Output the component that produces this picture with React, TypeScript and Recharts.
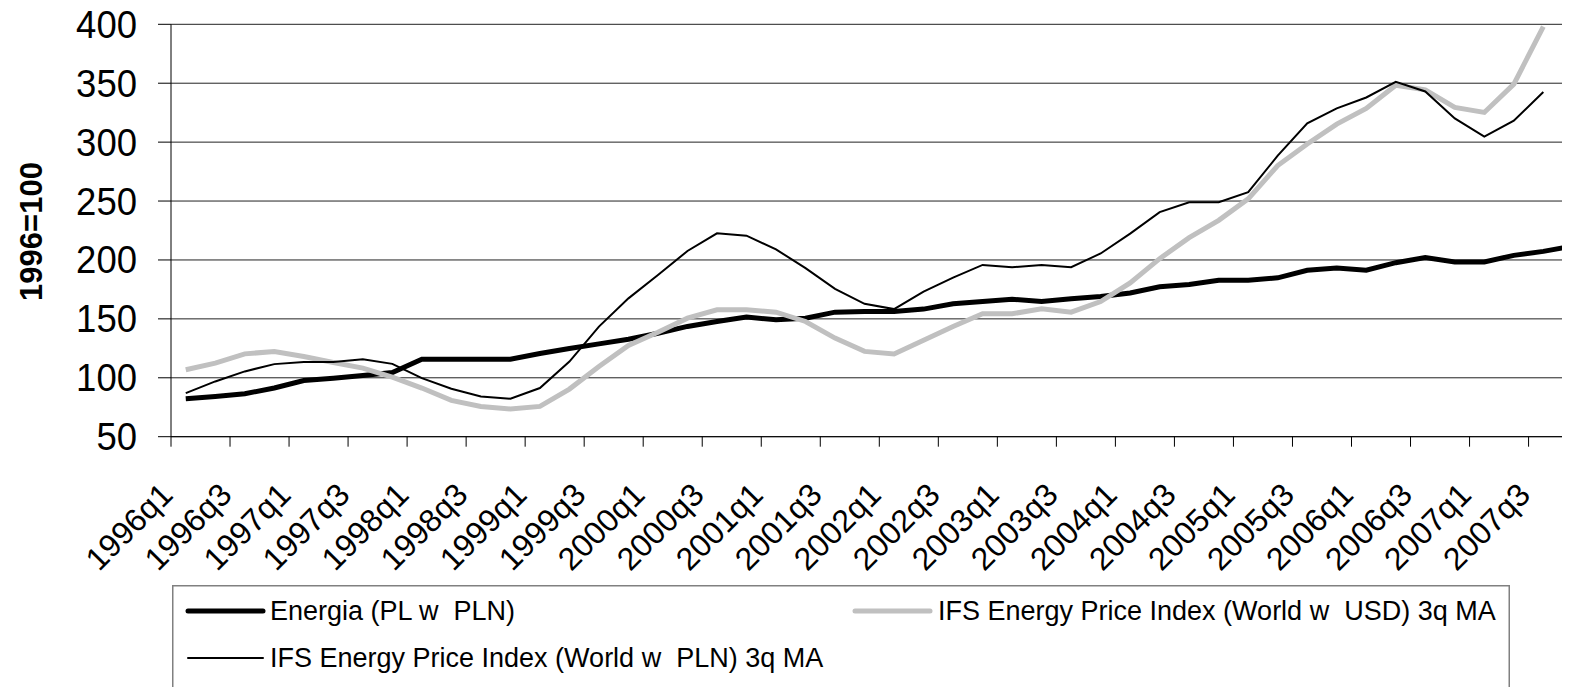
import { CartesianGrid, Legend, Line, LineChart, XAxis, YAxis } from "recharts";

const quarters = [
  "1996q1", "1996q2", "1996q3", "1996q4",
  "1997q1", "1997q2", "1997q3", "1997q4",
  "1998q1", "1998q2", "1998q3", "1998q4",
  "1999q1", "1999q2", "1999q3", "1999q4",
  "2000q1", "2000q2", "2000q3", "2000q4",
  "2001q1", "2001q2", "2001q3", "2001q4",
  "2002q1", "2002q2", "2002q3", "2002q4",
  "2003q1", "2003q2", "2003q3", "2003q4",
  "2004q1", "2004q2", "2004q3", "2004q4",
  "2005q1", "2005q2", "2005q3", "2005q4",
  "2006q1", "2006q2", "2006q3", "2006q4",
  "2007q1", "2007q2", "2007q3", "2007q4",
];

// Energia (PL w PLN)
const energiaPl = [
  82.2, 84.2, 86.5, 91.3, 97.7, 99.7, 102, 104.5,
  115.8, 115.8, 115.8, 115.8, 120.6, 124.8, 128.8, 132.7,
  137.8, 143.6, 147.8, 151.5, 149.2, 150.6, 155.7, 156.3,
  156.3, 158.3, 162.8, 164.7, 166.7, 164.7, 167, 169,
  172, 177.2, 179.1, 182.8, 182.8, 184.8, 191.3, 193.2,
  191.3, 197.7, 202, 198.3, 198.3, 203.9, 207.3, 211.8,
];

// IFS Energy Price Index (World w USD) 3q MA
const ifsUsd = [
  106.8, 112.4, 120.3, 122.3, 118, 113, 108.2, 100.6,
  91.3, 80.8, 75.7, 73.5, 75.7, 90.4, 109.6, 127.4,
  138.6, 150.6, 157.7, 157.7, 155.7, 147.8, 133.7, 122.4,
  120.2, 131.8, 143.6, 154.3, 154.3, 158.5, 155.7, 164.7,
  180.5, 201.1, 218.9, 233.6, 251.9, 280.1, 298.4, 315.3,
  328.6, 348.3, 344.4, 329.4, 325.2, 349.2, 398,
];

// IFS Energy Price Index (World w PLN) 3q MA
const ifsPln = [
  87, 96.9, 105.4, 111.6, 113.3, 113.3, 115.8, 111.8,
  99.7, 90.7, 84.2, 82.2, 91.3, 113.8, 143.4, 167.4,
  187.2, 207.6, 222.6, 220.6, 209, 193, 175.5, 162.8,
  158.3, 173.2, 185, 195.8, 193.8, 195.8, 193.8, 205.5,
  222.3, 240.6, 249, 249, 257.5, 288.5, 315.9, 328.6,
  337.9, 351.2, 343, 320.1, 304.6, 318.2, 342.5,
];

const yTicks = [50, 100, 150, 200, 250, 300, 350, 400];
const seriesNames = [
  "Energia (PL w  PLN)",
  "IFS Energy Price Index (World w  USD) 3q MA",
  "IFS Energy Price Index (World w  PLN) 3q MA",
];

const data = quarters.map((q, i) => ({
  q,
  energia: energiaPl[i],
  usd: ifsUsd[i] ?? null,
  pln: ifsPln[i] ?? null,
}));

const FONT = '"Liberation Sans", Arial, sans-serif';
const CHART_W = 1600;
const CHART_H = 760;
const PLOT_LEFT = 163;
const PLOT_TOP = 16.3;
const PLOT_RIGHT = 1579.6;
const AXIS_Y = 428.7;
const X_AXIS_H = 100;
const BAND = (PLOT_RIGHT - PLOT_LEFT) / quarters.length;

function QuarterTick(props: any) {
  const { x, payload } = props;
  const bx = x - BAND / 2;
  const tx = bx + 3.5;
  const ty = AXIS_Y + 60;
  return (
    <g>
      <line x1={bx} y1={AXIS_Y} x2={bx} y2={AXIS_Y + 10} stroke="#000" strokeWidth={1} />
      <text
        x={tx}
        y={ty}
        textAnchor="end"
        fontSize={32}
        fill="#000"
        transform={`rotate(-45 ${tx} ${ty})`}
      >
        {payload.value}
      </text>
    </g>
  );
}

function ValueTick(props: any) {
  const { x, y, payload } = props;
  return (
    <text
      x={x}
      y={y}
      textAnchor="end"
      dominantBaseline="central"
      fontSize={36.5}
      fill="#000"
      transform={`translate(0 ${y}) scale(1 1.08) translate(0 ${-y})`}
    >
      {payload.value}
    </text>
  );
}

function AxisTitle() {
  const cx = 23.7;
  const cy = 223.5;
  return (
    <text
      x={cx}
      y={cy}
      textAnchor="middle"
      dominantBaseline="central"
      fontSize={31}
      fontWeight="bold"
      fill="#000"
      transform={`rotate(-90 ${cx} ${cy})`}
    >
      1996=100
    </text>
  );
}

function LegendBox() {
  const items = [
    { name: seriesNames[0], color: "#000", w: 5, sx: 16, tx: 98, cy: 26 },
    { name: seriesNames[1], color: "#c0c0c0", w: 5, sx: 683, tx: 766, cy: 26 },
    { name: seriesNames[2], color: "#000", w: 2, sx: 16, tx: 98, cy: 73 },
  ];
  return (
    <svg width={1338} height={200} style={{ display: "block", fontFamily: FONT }}>
      <rect x={0.75} y={0.75} width={1336.5} height={300} fill="#fff" stroke="#808080" strokeWidth={1.5} />
      {items.map((it) => (
        <g key={it.name}>
          <line
            x1={it.sx}
            y1={it.cy}
            x2={it.sx + 75}
            y2={it.cy}
            stroke={it.color}
            strokeWidth={it.w}
            strokeLinecap="round"
          />
          <text
            x={it.tx}
            y={it.cy}
            dominantBaseline="central"
            fontSize={27}
            fill="#000"
            style={{ whiteSpace: "pre" }}
          >
            {it.name}
          </text>
        </g>
      ))}
    </svg>
  );
}

export default function App() {
  return (
    <div style={{ width: 1562, height: 679, overflow: "hidden", position: "relative", fontFamily: FONT, background: "#fff" }}>
      <LineChart
        width={CHART_W}
        height={CHART_H}
        data={data}
        margin={{
          top: PLOT_TOP,
          right: CHART_W - PLOT_RIGHT,
          left: 0,
          bottom: CHART_H - AXIS_Y - X_AXIS_H,
        }}
      >
        <CartesianGrid vertical={false} stroke="#222" strokeWidth={1} />
        <XAxis
          dataKey="q"
          interval={1}
          height={X_AXIS_H}
          tickLine={false}
          axisLine={{ stroke: "#000", strokeWidth: 1 }}
          padding={{ left: BAND / 2, right: BAND / 2 }}
          tick={(p: any) => <QuarterTick {...p} />}
        />
        <YAxis
          width={PLOT_LEFT}
          domain={[50, 400]}
          ticks={yTicks}
          interval={0}
          allowDataOverflow
          tickSize={13}
          tickMargin={21}
          axisLine={{ stroke: "#000", strokeWidth: 1 }}
          tickLine={{ stroke: "#000", strokeWidth: 1 }}
          tick={(p: any) => <ValueTick {...p} />}
          label={<AxisTitle />}
        />
        <Legend
          layout="horizontal"
          verticalAlign="middle"
          align="center"
          wrapperStyle={{ left: 163.7, top: 577, width: 1338, height: 200 }}
          content={() => <LegendBox />}
        />
        <Line
          type="linear"
          dataKey="energia"
          name={seriesNames[0]}
          stroke="#000"
          strokeWidth={5}
          dot={false}
          activeDot={false}
          isAnimationActive={false}
        />
        <Line
          type="linear"
          dataKey="usd"
          name={seriesNames[1]}
          stroke="#c0c0c0"
          strokeWidth={5}
          dot={false}
          activeDot={false}
          isAnimationActive={false}
        />
        <Line
          type="linear"
          dataKey="pln"
          name={seriesNames[2]}
          stroke="#000"
          strokeWidth={2}
          dot={false}
          activeDot={false}
          isAnimationActive={false}
        />
      </LineChart>
    </div>
  );
}
